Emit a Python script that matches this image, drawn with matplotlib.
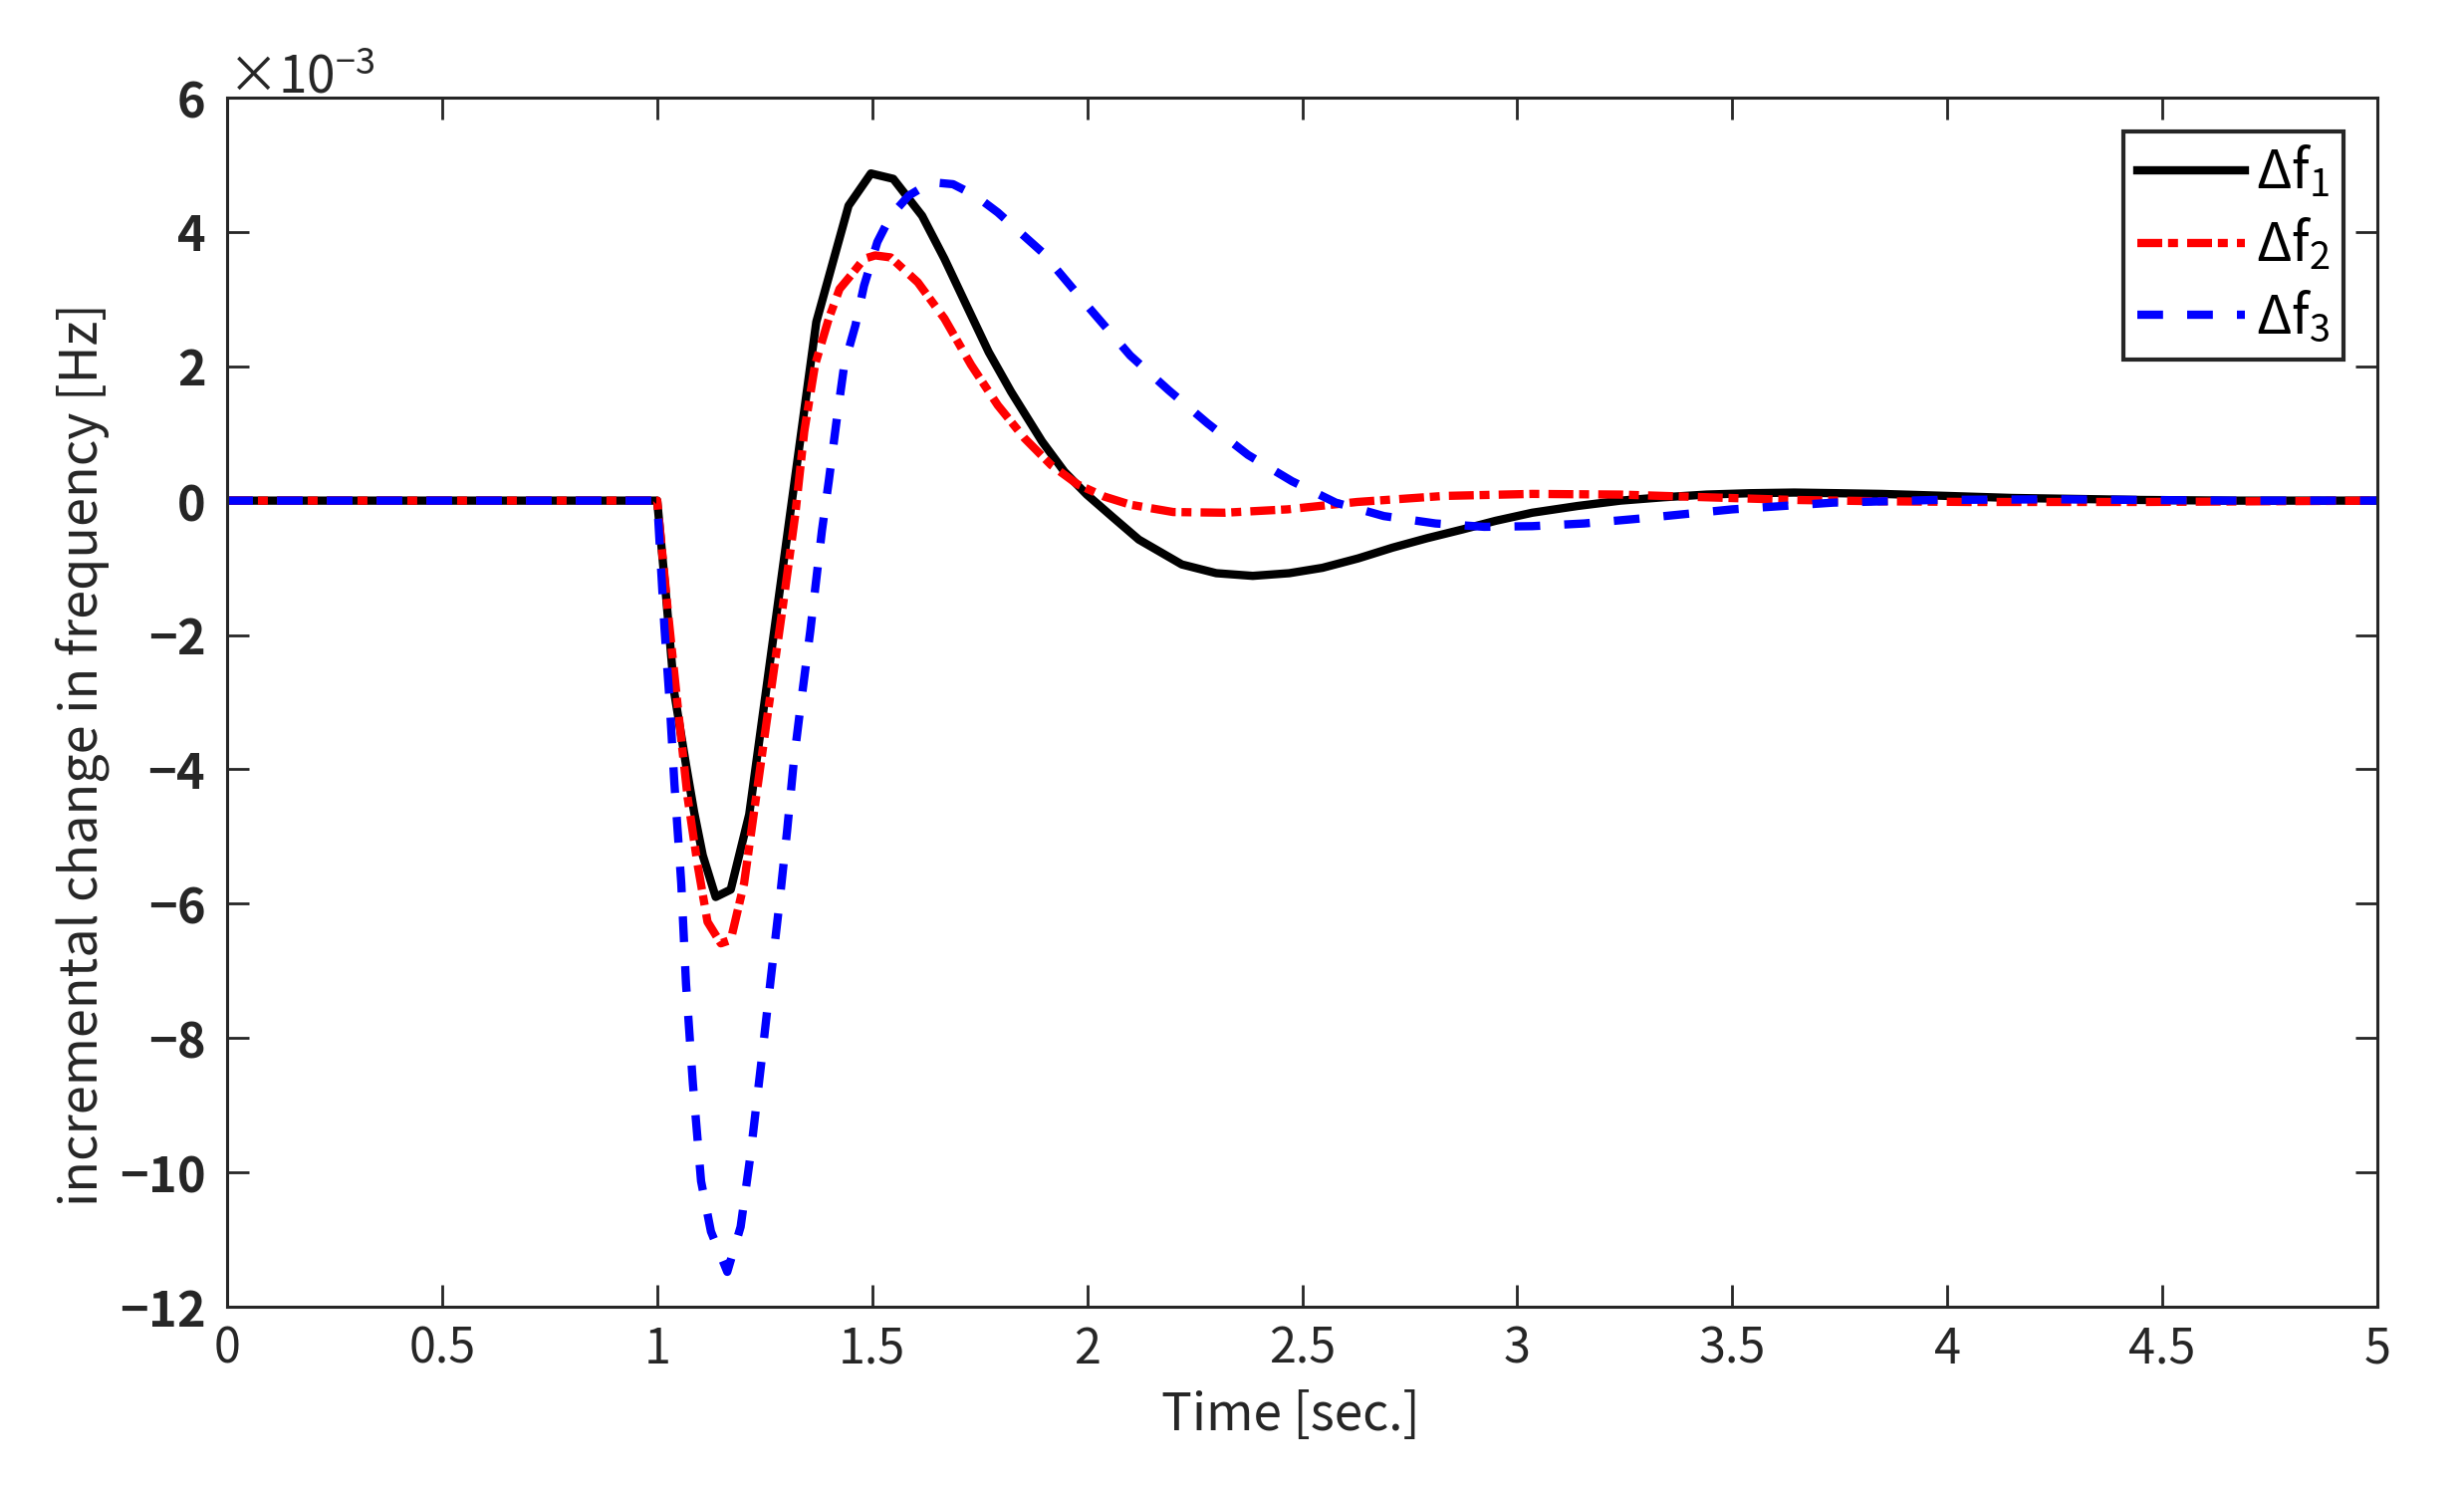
import numpy as np
import matplotlib
matplotlib.use("Agg")
import matplotlib.pyplot as plt

plt.rcParams['font.family'] = ['Noto Sans CJK JP', 'DejaVu Sans']
plt.rcParams['mathtext.fontset'] = 'custom'
plt.rcParams['mathtext.rm'] = 'Noto Sans CJK JP'
plt.rcParams['mathtext.it'] = 'Noto Sans CJK JP'
plt.rcParams['mathtext.bf'] = 'Noto Sans CJK JP:bold'
plt.rcParams['axes.unicode_minus'] = True

AX_COLOR = '#262626'
FS = 35

# time [s] and frequency deviation [x1e-3 Hz]
t1 = [0, 1.0, 1.021, 1.040, 1.067, 1.086, 1.106, 1.136, 1.171, 1.214, 1.370,
      1.445, 1.497, 1.549, 1.616, 1.668, 1.719, 1.771, 1.823, 1.895, 1.947,
      1.999, 2.06, 2.12, 2.22, 2.30, 2.385, 2.47, 2.547, 2.63, 2.71, 2.79,
      2.872, 2.95, 3.035, 3.14, 3.24, 3.34, 3.44, 3.54, 3.644, 3.75, 3.847,
      3.95, 4.05, 4.15, 4.253, 4.45, 4.66, 5.0]
df1 = [0, 0, -1.45, -2.87, -3.93, -4.64, -5.28, -5.90, -5.79, -4.67, 2.66,
       4.39, 4.87, 4.79, 4.24, 3.60, 2.91, 2.21, 1.62, 0.88, 0.43,
       0.09, -0.25, -0.58, -0.95, -1.08, -1.12, -1.08, -1.00, -0.86, -0.70, -0.56,
       -0.43, -0.30, -0.18, -0.08, 0.0, 0.05, 0.09, 0.11, 0.12, 0.11, 0.10,
       0.08, 0.06, 0.04, 0.03, 0.01, 0.0, 0.0]

t2 = [0, 1.0, 1.025, 1.048, 1.071, 1.094, 1.117, 1.148, 1.171, 1.202, 1.225,
      1.256, 1.295, 1.321, 1.342, 1.367, 1.399, 1.424, 1.450, 1.481, 1.507,
      1.543, 1.606, 1.668, 1.730, 1.792, 1.854, 1.916, 1.978, 2.04, 2.10,
      2.20, 2.32, 2.466, 2.628, 2.83, 3.035, 3.24, 3.44, 3.644, 3.85, 4.05,
      4.46, 5.0]
df2 = [0, 0, -1.66, -3.08, -4.43, -5.42, -6.27, -6.59, -6.54, -5.70, -4.64,
       -3.22, -1.44, -0.21, 1.03, 2.02, 2.71, 3.15, 3.35, 3.60, 3.65,
       3.62, 3.25, 2.71, 2.02, 1.42, 0.93, 0.53, 0.24, 0.06, -0.06,
       -0.17, -0.18, -0.13, -0.02, 0.07, 0.10, 0.09, 0.05, 0.01, -0.01, -0.02,
       -0.02, 0.0]

t3 = [0, 1.0, 1.017, 1.029, 1.040, 1.056, 1.067, 1.083, 1.102, 1.125, 1.163,
      1.194, 1.217, 1.244, 1.264, 1.283, 1.302, 1.318, 1.333, 1.356, 1.383,
      1.399, 1.419, 1.435, 1.461, 1.481, 1.512, 1.543, 1.585, 1.637, 1.688,
      1.740, 1.792, 1.895, 1.999, 2.10, 2.19, 2.28, 2.374, 2.476, 2.578,
      2.69, 2.81, 2.923, 3.035, 3.156, 3.28, 3.50, 3.735, 3.97, 4.25, 4.66, 5.0]
df3 = [0, 0, -1.90, -3.00, -4.21, -5.70, -7.19, -8.68, -10.13, -10.88, -11.48,
       -10.81, -9.74, -8.26, -7.12, -6.06, -4.92, -3.86, -3.08, -1.94, -0.45,
       0.29, 1.28, 2.02, 2.61, 3.20, 3.85, 4.24, 4.54, 4.74, 4.71,
       4.54, 4.29, 3.70, 2.91, 2.16, 1.64, 1.15, 0.68, 0.29, -0.03,
       -0.23, -0.34, -0.39, -0.38, -0.34, -0.27, -0.13, -0.03, 0.01, 0.02, 0.0, 0.0]

labels = [r'$\Delta\mathrm{f}_1$', r'$\Delta\mathrm{f}_2$', r'$\Delta\mathrm{f}_3$']

fig = plt.figure(figsize=(24.74, 14.93), dpi=100)
ax = fig.add_axes([0.0922, 0.1212, 0.8726, 0.8132])

lw = 6.0
ax.plot(t1, np.array(df1) * 1e-3, color='k', lw=lw, ls='-', label=labels[0])
ax.plot(t2, np.array(df2) * 1e-3, color='r', lw=lw, ls=(0, (3.0, 0.7, 1.2, 1.1)), label=labels[1])
ax.plot(t3, np.array(df3) * 1e-3, color='b', lw=lw, ls=(0, (3.1, 2.9)), label=labels[2])

ax.set_xlim(0, 5)
ax.set_ylim(-0.012, 0.006)
ax.set_xticks(np.arange(0, 5.01, 0.5))
ax.set_xticklabels(['0', '0.5', '1', '1.5', '2', '2.5', '3', '3.5', '4', '4.5', '5'])
ax.set_yticks(np.arange(-12, 6.1, 2) * 1e-3)
ax.ticklabel_format(axis='y', style='sci', scilimits=(-3, -3), useMathText=True)

for s in ax.spines.values():
    s.set_color(AX_COLOR)
    s.set_linewidth(2.2)
ax.tick_params(direction='in', length=16, width=2.0, color=AX_COLOR,
               top=True, right=True, labelsize=FS, labelcolor=AX_COLOR)
ax.tick_params(axis='x', pad=13)
ax.tick_params(axis='y', pad=16)
for lab in ax.get_yticklabels():
    lab.set_fontweight('bold')
ax.yaxis.get_offset_text().set_fontsize(FS + 2)
ax.yaxis.get_offset_text().set_color(AX_COLOR)

ax.set_xlabel('Time [sec.]', fontsize=FS + 2, color=AX_COLOR)
ax.xaxis.set_label_coords(0.4947, -0.068)
ax.set_ylabel('incremental change in frequency [Hz]', fontsize=FS + 2.5, color=AX_COLOR)
ax.yaxis.set_label_coords(-0.0547, 0.457)

leg = ax.legend(loc='upper right', fontsize=FS + 4, frameon=True, fancybox=False,
                framealpha=1, edgecolor=AX_COLOR, borderaxespad=0.62,
                handlelength=2.0, handletextpad=0.2, labelspacing=0.3,
                borderpad=0.25)
leg.get_frame().set_linewidth(3.0)

fig.savefig('out.png', dpi=100)
